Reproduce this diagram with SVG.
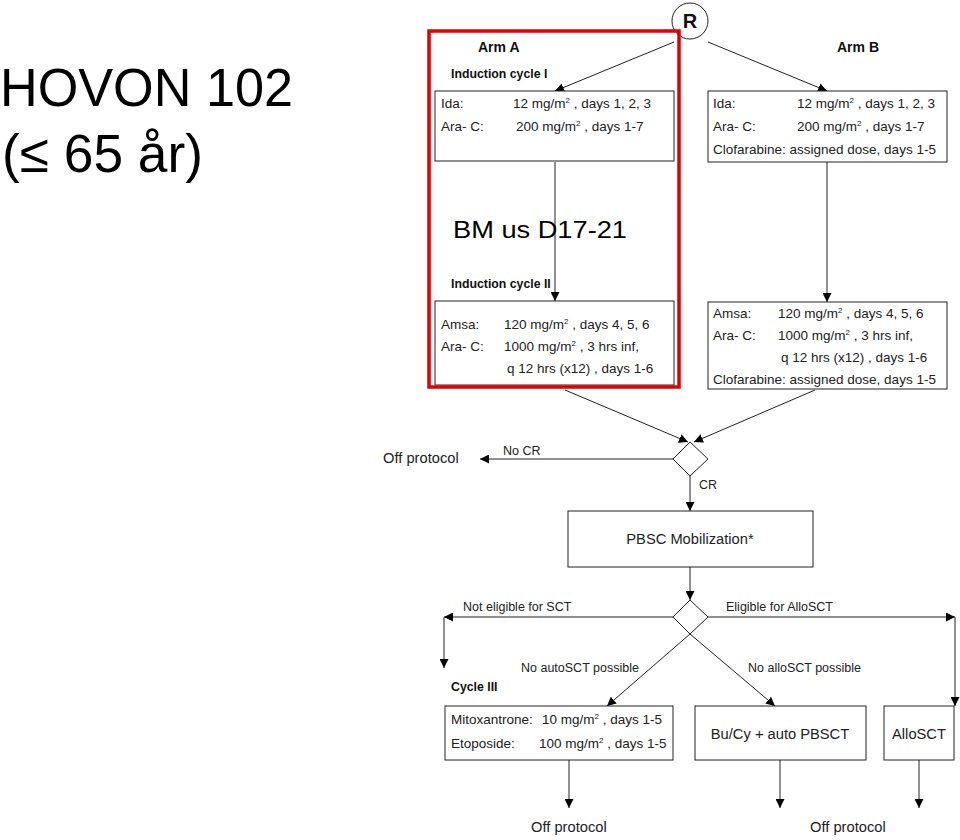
<svg xmlns="http://www.w3.org/2000/svg" width="960" height="840" viewBox="0 0 960 840">
<defs>
<marker id="ah" viewBox="0 0 10 10" refX="10" refY="5" markerWidth="9" markerHeight="9" markerUnits="userSpaceOnUse" orient="auto"><path d="M0,0 L10,5 L0,10 Z" fill="#000"/></marker>
</defs>
<style>
.t{font-family:"Liberation Sans",Arial,sans-serif;font-size:13.5px;fill:#222}
.l{font-family:"Liberation Sans",Arial,sans-serif;font-size:12.5px;fill:#222}
.m{font-family:"Liberation Sans",Arial,sans-serif;font-size:14.7px;fill:#222}
.b{font-family:"Liberation Sans",Arial,sans-serif;font-size:12.3px;font-weight:bold;fill:#111}
.h{font-family:"Liberation Sans",Arial,sans-serif;font-size:14px;font-weight:bold;fill:#111}
.box{fill:#fff;stroke:#222;stroke-width:1}
.ar{fill:none;stroke:#222;stroke-width:1;marker-end:url(#ah)}
.sup{font-size:8px}
.big{font-family:"Liberation Sans",Arial,sans-serif;fill:#000}
</style>
<rect width="960" height="840" fill="#fff"/>
<g id="title">
<text class="big" x="0" y="106" font-size="54" textLength="293" lengthAdjust="spacingAndGlyphs">HOVON 102</text>
<text class="big" x="2" y="172" font-size="54" textLength="201" lengthAdjust="spacingAndGlyphs">(≤ 65 år)</text>
</g>
<g id="connectors">
<path class="ar" d="M674,42 L555,91"/>
<path class="ar" d="M708,42 L827,91"/>
<path class="ar" d="M555,162 L555,301"/>
<path class="ar" d="M827,162 L827,302"/>
<path class="ar" d="M565,390 L688,442"/>
<path class="ar" d="M815,390 L694,442"/>
<path class="ar" d="M673,459 L480,459"/>
<path class="ar" d="M690,476 L690,511"/>
<path class="ar" d="M690,567 L690,600"/>
<path class="ar" d="M673,617 L444,617"/>
<path class="ar" d="M444,617 L444,668"/>
<path class="ar" d="M708,617 L955,617"/>
<path class="ar" d="M955,617 L955,706"/>
<path class="ar" d="M690,634 L607,706"/>
<path class="ar" d="M690,634 L775,706"/>
<path class="ar" d="M569,760 L569,808"/>
<path class="ar" d="M780,760 L780,808"/>
<path class="ar" d="M919,760 L919,808"/>
</g>
<g id="labels">
<text class="l" x="503" y="455">No CR</text>
<text class="l" x="699" y="489">CR</text>
<text class="l" x="463" y="611">Not eligible for SCT</text>
<text class="l" x="726" y="611">Eligible for AlloSCT</text>
<text class="l" x="521" y="672">No autoSCT possible</text>
<text class="l" x="748" y="672">No alloSCT possible</text>
</g>
<g id="R">
<circle cx="690" cy="21" r="18" fill="#fff" stroke="#222" stroke-width="1"/>
<text x="690" y="28" text-anchor="middle" font-family="Liberation Sans,Arial,sans-serif" font-size="20" font-weight="bold" fill="#111">R</text>
</g>
<g id="armA-head">
<text class="h" x="478" y="52">Arm A</text>
<text class="b" x="451" y="78">Induction cycle I</text>
</g>
<g id="armB-head">
<text class="h" x="837" y="52">Arm B</text>
</g>
<g id="boxA1">
<rect class="box" x="435" y="91" width="239" height="70"/>
<text class="t" x="441" y="108">Ida:</text>
<text class="t" x="513" y="108">12 mg/m<tspan class="sup" dy="-5">2</tspan><tspan dy="5"> , days 1, 2, 3</tspan></text>
<text class="t" x="441" y="131">Ara- C:</text>
<text class="t" x="516" y="131">200 mg/m<tspan class="sup" dy="-5">2</tspan><tspan dy="5"> , days 1-7</tspan></text>
</g>
<g id="bm">
<text class="big" x="453" y="238" font-size="24" textLength="174" lengthAdjust="spacingAndGlyphs">BM us D17-21</text>
<text class="b" x="451" y="288">Induction cycle II</text>
</g>
<g id="boxA2">
<rect class="box" x="435" y="301" width="239" height="84"/>
<text class="t" x="441" y="329">Amsa:</text>
<text class="t" x="504" y="329">120 mg/m<tspan class="sup" dy="-5">2</tspan><tspan dy="5"> , days 4, 5, 6</tspan></text>
<text class="t" x="441" y="351">Ara- C:</text>
<text class="t" x="504" y="351">1000 mg/m<tspan class="sup" dy="-5">2</tspan><tspan dy="5"> , 3 hrs inf,</tspan></text>
<text class="t" x="507" y="373">q 12 hrs (x12) , days 1-6</text>
</g>
<g id="redframe">
<rect x="429" y="31" width="250" height="356" fill="none" stroke="#e00000" stroke-width="3.5"/>
</g>
<g id="boxB1">
<rect class="box" x="708" y="91" width="239" height="71"/>
<text class="t" x="713" y="108">Ida:</text>
<text class="t" x="797" y="108">12 mg/m<tspan class="sup" dy="-5">2</tspan><tspan dy="5"> , days 1, 2, 3</tspan></text>
<text class="t" x="713" y="131">Ara- C:</text>
<text class="t" x="797" y="131">200 mg/m<tspan class="sup" dy="-5">2</tspan><tspan dy="5"> , days 1-7</tspan></text>
<text class="t" x="713" y="154">Clofarabine: assigned dose, days 1-5</text>
</g>
<g id="boxB2">
<rect class="box" x="708" y="302" width="239" height="87"/>
<text class="t" x="713" y="318">Amsa:</text>
<text class="t" x="778" y="318">120 mg/m<tspan class="sup" dy="-5">2</tspan><tspan dy="5"> , days 4, 5, 6</tspan></text>
<text class="t" x="713" y="340">Ara- C:</text>
<text class="t" x="778" y="340">1000 mg/m<tspan class="sup" dy="-5">2</tspan><tspan dy="5"> , 3 hrs inf,</tspan></text>
<text class="t" x="781" y="362">q 12 hrs (x12) , days 1-6</text>
<text class="t" x="713" y="384">Clofarabine: assigned dose, days 1-5</text>
</g>
<g id="offA">
<text class="m" x="383" y="463">Off protocol</text>
</g>
<g id="dec1">
<path class="box" d="M690,442 L708,459 L690,476 L673,459 Z"/>
</g>
<g id="pbsc">
<rect class="box" x="568" y="511" width="245" height="56"/>
<text class="m" x="690" y="544" text-anchor="middle">PBSC Mobilization*</text>
</g>
<g id="dec2">
<path class="box" d="M690,600 L708,617 L690,634 L673,617 Z"/>
</g>
<g id="cycle3">
<text class="b" x="451" y="691">Cycle III</text>
<rect class="box" x="445" y="706" width="228" height="54"/>
<text class="t" x="451" y="724">Mitoxantrone:</text>
<text class="t" x="542" y="724">10 mg/m<tspan class="sup" dy="-5">2</tspan><tspan dy="5"> , days 1-5</tspan></text>
<text class="t" x="451" y="748">Etoposide:</text>
<text class="t" x="539" y="748">100 mg/m<tspan class="sup" dy="-5">2</tspan><tspan dy="5"> , days 1-5</tspan></text>
</g>
<g id="bucy">
<rect class="box" x="695" y="706" width="171" height="54"/>
<text class="m" x="780" y="739" text-anchor="middle">Bu/Cy + auto PBSCT</text>
</g>
<g id="allo">
<rect class="box" x="884" y="706" width="70" height="54"/>
<text class="m" x="919" y="739" text-anchor="middle">AlloSCT</text>
</g>
<g id="off2">
<text class="m" x="531" y="832">Off protocol</text>
</g>
<g id="off3">
<text class="m" x="810" y="832">Off protocol</text>
</g>
</svg>
